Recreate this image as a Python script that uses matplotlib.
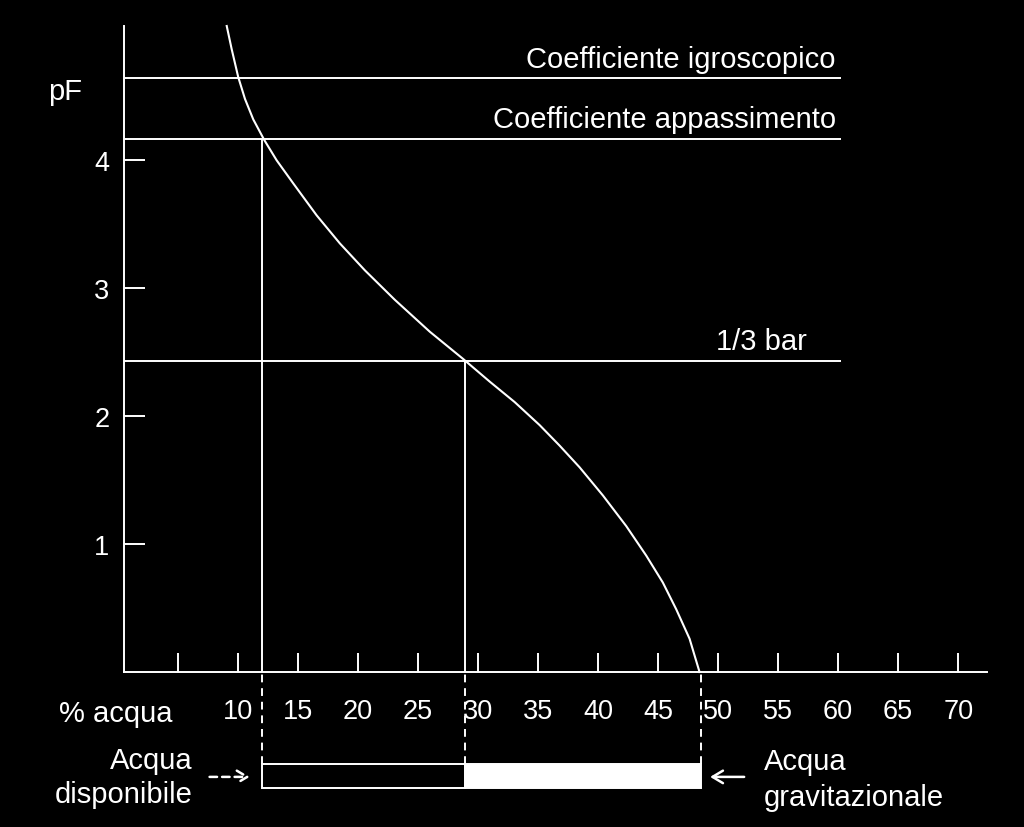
"""
Curva di ritenzione idrica del suolo (pF vs % acqua)
con i livelli caratteristici e la fascia di acqua disponibile.
"""

import matplotlib
matplotlib.use('Agg')
import matplotlib.pyplot as plt
from matplotlib.patches import Rectangle

plt.rcParams['font.family'] = ['Liberation Sans', 'DejaVu Sans']

# curva
acqua = [9.06, 9.47, 10.02, 10.58, 11.27, 12.18, 13.22, 14.6, 16.55,
         18.49, 20.57, 23.06, 25.98, 28.72, 30.97, 33.05, 35.13, 36.79,
         38.46, 40.4, 42.35, 44.01, 45.39, 46.51, 47.62, 48.45]
pf = [5.05, 4.87, 4.65, 4.48, 4.32, 4.16, 4.0, 3.82, 3.57,
      3.35, 3.14, 2.91, 2.66, 2.45, 2.27, 2.11, 1.93, 1.77,
      1.6, 1.38, 1.14, 0.91, 0.7, 0.49, 0.26, 0.0]

# livelli orizzontali
livelli = [4.64, 4.17, 2.43]
etichette = ['Coefficiente igroscopico', 'Coefficiente appassimento', '1/3 bar']

# punti caratteristici (% acqua)
appassimento = 12.0
capacita_campo = 28.9
saturazione = 48.6
pf_appassimento = 4.17
pf_capacita = 2.43

x_ticks = [5, 10, 15, 20, 25, 30, 35, 40, 45, 50, 55, 60, 65, 70]
x_labels = ['', '10', '15', '20', '25', '30', '35', '40', '45',
            '50', '55', '60', '65', '70']
y_ticks = [1, 2, 3, 4]

W = 'white'
FS = 21
FS_TICK = 19.5

fig = plt.figure(figsize=(10.24, 8.28), dpi=100, facecolor='black')
ax = fig.add_axes([123.5 / 1024, 1 - 673 / 828,
                   (987 - 123.5) / 1024, (673 - 27) / 828])
ax.set_facecolor('black')
ax.set_xlim(0.46, 72.4)
ax.set_ylim(0, 5.05)

for s in ['top', 'right']:
    ax.spines[s].set_visible(False)
for s in ['left', 'bottom']:
    ax.spines[s].set_color(W)
    ax.spines[s].set_linewidth(1.4)

ax.set_xticks(x_ticks, x_labels)
ax.set_yticks(y_ticks)
ax.tick_params(axis='x', direction='in', length=14, width=1.4, color=W,
               labelcolor=W, labelsize=FS_TICK, pad=19)
ax.tick_params(axis='y', direction='in', length=15, width=1.4, color=W,
               labelcolor=W, labelsize=FS_TICK, pad=10)

# curva
ax.plot(acqua, pf, color=W, lw=1.5, clip_on=False, zorder=3,
        solid_joinstyle='round')

# linee orizzontali con etichette
for y in livelli:
    ax.hlines(y, 0.46, 60.2, color=W, lw=1.4)
xr = [59.8, 59.8, 57.4]
for y, lab, x in zip(livelli, etichette, xr):
    ax.annotate(lab, xy=(x, y), xytext=(0, 8.5), textcoords='offset points',
                ha='right', va='baseline', color=W, fontsize=FS)

# verticali dalla curva all'asse
ax.vlines([appassimento, capacita_campo], 0, [pf_appassimento, pf_capacita],
          color=W, lw=1.4)
# tratteggiate sotto l'asse fino alla barra
ax.vlines([appassimento, capacita_campo, saturazione], -0.72, 0, color=W,
          lw=1.4, linestyles=(0, (4, 3)), clip_on=False)

# barra acqua disponibile / gravitazionale
y0, h = -0.905, 0.185
ax.add_patch(Rectangle((appassimento, y0), capacita_campo - appassimento, h,
                       fc='black', ec=W, lw=1.4, clip_on=False))
ax.add_patch(Rectangle((capacita_campo, y0), saturazione - capacita_campo, h,
                       fc=W, ec=W, lw=1.4, clip_on=False))

# frecce
stile = '->,head_length=0.75,head_width=0.45'
ax.annotate('', xy=(11.2, -0.82), xytext=(7.4, -0.82),
            arrowprops=dict(arrowstyle=stile, color=W, lw=1.8,
                            linestyle=(0, (3, 2))),
            annotation_clip=False)
ax.annotate('', xy=(49.1, -0.82), xytext=(52.4, -0.82),
            arrowprops=dict(arrowstyle=stile, color=W, lw=1.8),
            annotation_clip=False)

# testi
ax.text(-4.4, 4.477, 'pF', color=W, fontsize=FS, ha='center', va='baseline')
ax.text(-0.2, -0.383, '% acqua', color=W, fontsize=FS, ha='center',
        va='baseline', clip_on=False)
ax.text(6.2, -0.75, 'Acqua', color=W, fontsize=FS, ha='right', va='baseline')
ax.text(6.2, -1.016, 'disponibile', color=W, fontsize=FS, ha='right',
        va='baseline')
ax.text(53.8, -0.758, 'Acqua', color=W, fontsize=FS, ha='left', va='baseline')
ax.text(53.8, -1.039, 'gravitazionale', color=W, fontsize=FS, ha='left',
        va='baseline')

fig.savefig('out.png', dpi=100, facecolor='black')
